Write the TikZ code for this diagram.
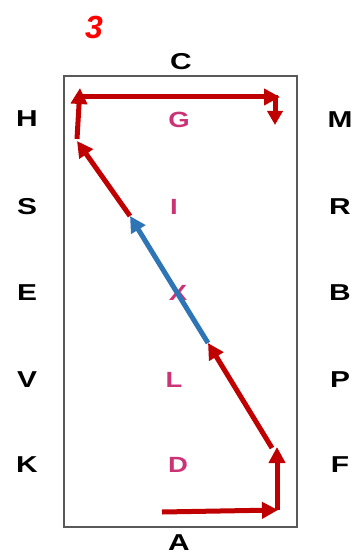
\documentclass[tikz,border=0pt]{standalone}
\usepackage{fontspec}
\setmainfont{Liberation Sans}
\usetikzlibrary{arrows.meta}
\definecolor{arrred}{RGB}{192,0,0}
\definecolor{arrblue}{RGB}{46,117,182}
\definecolor{seat}{RGB}{204,51,119}
\tikzset{
  side/.style={font=\fontsize{23}{23}\selectfont\bfseries,xscale=1.3,inner sep=1pt},
  inner/.style={font=\fontsize{22}{22}\selectfont\bfseries,text=seat,xscale=1.25},
  redarr/.style={->,draw=arrred,line width=5pt},
  bluearr/.style={->,draw=arrblue,line width=5pt}
}
\begin{document}
\begin{tikzpicture}[x=1pt,y=-1pt,>={Triangle[length=16pt,width=16pt]}]
	\useasboundingbox (0,0) rectangle (356,556);
	\draw[gray!70!black,line width=1.8pt] (64,76) rectangle (297,527);
	\node[text=red,font=\fontsize{32}{32}\selectfont\bfseries\itshape] (num) at (94,27) {3};
	\node[side] (c) at (181,62) {C};
	\node[side] (a) at (179,543) {A};
	% left and right columns
	\node[side] (h) at (27,119) {H};
	\node[side] (s) at (27,207) {S};
	\node[side] (e) at (27,293) {E};
	\node[side] (v) at (27,380) {V};
	\node[side] (k) at (27,465) {K};
	\node[side] (m) at (340,120) {M};
	\node[side] (r) at (340,207) {R};
	\node[side] (b) at (340,293) {B};
	\node[side] (p) at (340,380) {P};
	\node[side] (f) at (340,465) {F};
	% inner letters
	\node[inner] (g) at (179,120) {G};
	\node[inner] (i) at (174,207) {I};
	\node[inner] (x) at (178,293) {X};
	\node[inner] (l) at (174,380) {L};
	\node[inner] (d) at (178,465) {D};
	% path
	\coordinate (p0) at (162,512);
	\coordinate (p1) at (278,510);
	\coordinate (p2) at (277,447);
	\coordinate (p3) at (272,448);
	\coordinate (p4) at (208,343);
	\coordinate (p5) at (130,216);
	\coordinate (p6) at (77,141);
	\coordinate (p7) at (80,88);
	\coordinate (p8) at (280,97);
	\coordinate (p9) at (275,95);
	\coordinate (p10) at (275,125);
	\draw[redarr] (p0)--(p1);
	\draw[redarr] ([xshift=-1pt]p1)--(p2);
	\draw[redarr] (p3)--(p4);
	\draw[bluearr] (p4)--(p5);
	\draw[redarr] (p5)--(p6);
	\draw[redarr] ([yshift=2pt]p6)--(p7);
	\draw[redarr] (80,97)--(p8);
	\draw[redarr,>={Triangle[length=14pt,width=15pt]}] (p9)--(p10);
\end{tikzpicture}
\end{document}
